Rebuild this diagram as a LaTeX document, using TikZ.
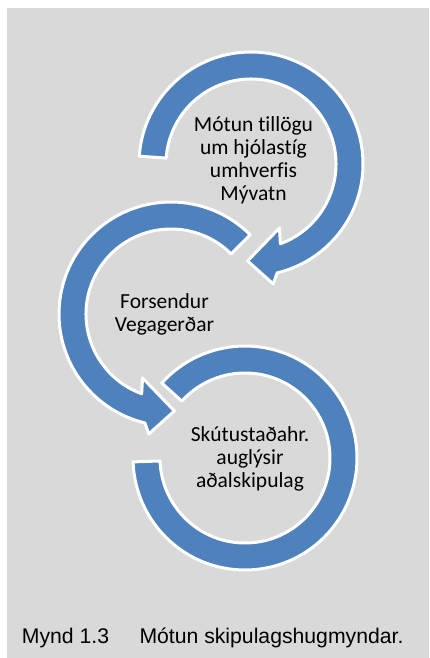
\documentclass[tikz,border=0pt]{standalone}
\usepackage{fontspec}
\setmainfont{Carlito}[Ligatures=NoCommon]
\newfontfamily\capfont{Liberation Sans}
\usepackage{xcolor}
\usepackage{tikz}
\usetikzlibrary{positioning}
\definecolor{stepblue}{HTML}{4F81BD}
\definecolor{panelgray}{HTML}{D9D9D9}

\begin{document}
\begin{tikzpicture}[x=1pt,y=1pt,
	ring/.style={fill=stepblue,draw=white,line width=3pt,line join=round},
	steptext/.style={align=center,inner sep=0pt,font=\fontsize{21.5}{23}\selectfont},
	captext/.style={inner sep=0pt,font=\capfont\fontsize{21.2}{24}\selectfont}]
	\fill[white] (0,0) rectangle (429,-658);
	\fill[panelgray] (7,-8) rectangle (429,-658);
	\useasboundingbox (0,0) rectangle (429,-658);

	\coordinate (c1) at (251,-164);
	\coordinate (c2) at (171,-314);
	\coordinate (c3) at (245,-458);

	\path[ring] ([shift={(138:112)}]c3) arc[start angle=138,end angle=-178,radius=112]
		-- ([shift={(-178:85)}]c3) arc[start angle=-178,end angle=138,radius=85] -- cycle;
	\path[ring] ([shift={(45:112)}]c2) arc[start angle=45,end angle=256.5,radius=112]
		-- ([shift={(259.5:122)}]c2) -- ([shift={(272:97)}]c2) -- ([shift={(246:70)}]c2)
		-- ([shift={(249.8:85)}]c2) arc[start angle=249.8,end angle=45,radius=85] -- cycle;
	\path[ring] ([shift={(176:112)}]c1) arc[start angle=176,end angle=-76.5,radius=112]
		-- ([shift={(-79.5:122)}]c1) -- ([shift={(-92:97)}]c1) -- ([shift={(-66:70)}]c1)
		-- ([shift={(-69.8:85)}]c1) arc[start angle=-69.8,end angle=176,radius=85] -- cycle;

	\node[steptext] (mytun) at (253.5,-160) {Mótun tillögu\\um hjólastíg\\umhverfis\\Mývatn};
	\node[steptext] (forsendur) at (164.5,-314.8) {Forsendur\\Vegagerðar};
	\node[steptext] (auglysir) at (250,-459) {Skútustaðahr.\\auglýsir\\aðalskipulag};

	\node[captext,anchor=base west] (capnum) at (21.7,-643) {Mynd 1.3};
	\node[captext,base right=30pt of capnum] (captitle) {Mótun skipulagshugmyndar.};
\end{tikzpicture}
\end{document}
